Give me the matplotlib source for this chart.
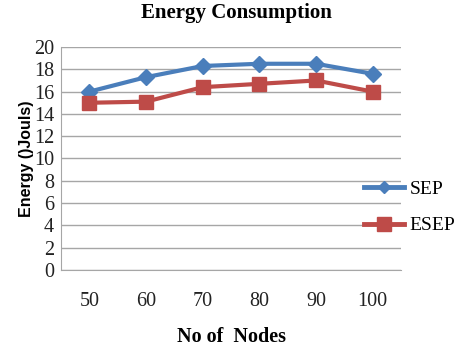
import matplotlib
matplotlib.use("Agg")
import matplotlib.pyplot as plt

categories = ["50", "60", "70", "80", "90", "100"]
sep = [16.0, 17.3, 18.3, 18.5, 18.5, 17.6]
esep = [15.0, 15.1, 16.4, 16.7, 17.0, 16.0]

fig = plt.figure(figsize=(4.63, 3.46), dpi=100)
ax = fig.add_axes([0.132, 0.22, 0.734, 0.644])

x = list(range(len(categories)))
ax.plot(x, sep, color="#4a7ebb", lw=3, marker="D", ms=8, label="SEP")
ax.plot(x, esep, color="#be4b48", lw=3, marker="s", ms=10, label="ESEP")

ax.set_xlim(-0.5, len(categories) - 0.5)
ax.set_ylim(0, 20)
ax.set_yticks(range(0, 21, 2))
ax.set_xticks(x)
ax.set_xticklabels(categories)
ax.yaxis.grid(True, color="#a6a6a6", lw=1)
ax.set_axisbelow(True)
for s in ["top", "right"]:
    ax.spines[s].set_visible(False)
ax.spines["left"].set_color("#a6a6a6")
ax.spines["bottom"].set_color("#a6a6a6")
ax.tick_params(axis="both", length=0, labelsize=14.5, labelcolor="#222222")
ax.tick_params(axis="x", pad=16)
ax.tick_params(axis="y", pad=5)
for lab in ax.get_xticklabels() + ax.get_yticklabels():
    lab.set_family("Liberation Serif")

fig.text(0.51, 0.962, "Energy Consumption", ha="center", va="center",
         family="Liberation Serif", fontweight="bold", fontsize=15)
fig.text(0.50, 0.026, "No of  Nodes", ha="center", va="center",
         family="Liberation Serif", fontweight="bold", fontsize=14.5)
ax.set_ylabel("Energy ()Jouls)", family="Liberation Sans", fontweight="bold",
              fontsize=11.5, labelpad=0)

leg = ax.legend(loc="center left", bbox_to_anchor=(0.89, 0.28), frameon=False,
                borderaxespad=0, borderpad=0,
                prop={"family": "Liberation Serif", "size": 14},
                handlelength=2.1, handletextpad=0.25, labelspacing=0.95)
hs = leg.legend_handles
hs[0].set_markersize(6)
hs[1].set_markersize(10)
for h in hs:
    h.set_linewidth(3.5)

fig.savefig("out.png", dpi=100)
